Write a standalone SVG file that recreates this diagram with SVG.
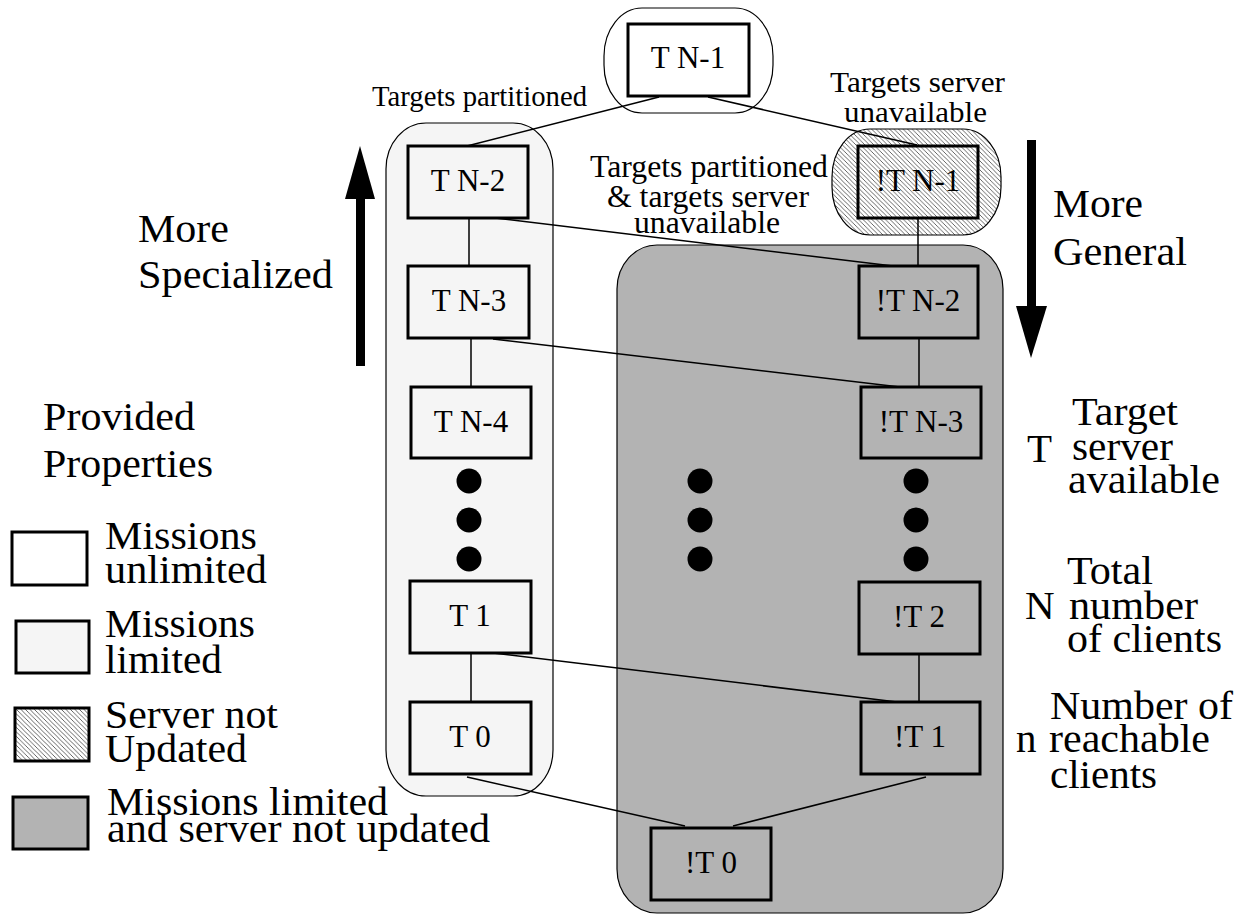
<svg xmlns="http://www.w3.org/2000/svg" width="1245" height="915" viewBox="0 0 1245 915">
<defs>
<pattern id="hatch" patternUnits="userSpaceOnUse" width="4.5" height="4.5">
<rect width="4.5" height="4.5" fill="#ffffff"/>
<path d="M-1,-1 L5.5,5.5 M3.5,-1 L5.5,1 M-1,3.5 L1,5.5" stroke="#000" stroke-width="0.6"/>
</pattern>
<style>
text{font-family:"Liberation Serif","Times New Roman",serif;fill:#000}
.nl{font-size:31px;text-anchor:middle}
.lbl{font-size:29px}
.mid{font-size:31px}
.big{font-size:41px}
.box{stroke:#000;stroke-width:3}
.wht{fill:#fff}
.lt{fill:#f5f5f5}
.gr{fill:#b3b3b3}
.ht{fill:url(#hatch)}
.cont{stroke:#000;stroke-width:1.2}
.ln{stroke:#000;stroke-width:1.5;fill:none}
.dot{fill:#000}
</style>
</defs>
<rect width="1245" height="915" fill="#fff"/>

<g id="containers">
<rect id="c-top" x="604" y="8" width="169" height="105" rx="38" ry="48" class="cont wht"/>
<rect id="c-left" x="386" y="123" width="167" height="673" rx="40" ry="46" class="cont lt"/>
<rect id="c-hatch" x="832" y="129" width="169" height="106" rx="38" ry="48" class="cont ht"/>
<rect id="c-gray" x="617" y="245" width="386" height="668" rx="40" ry="44" class="cont gr" stroke="#333"/>
</g>

<g id="arrows">
<rect x="356" y="198" width="9" height="168" fill="#000"/>
<polygon points="345,199 375,199 360,146" fill="#000"/>
<rect x="1027" y="140" width="9" height="167" fill="#000"/>
<polygon points="1016,306 1047,306 1031,358" fill="#000"/>
</g>

<g id="connectors">
<line class="ln" x1="659" y1="97" x2="467" y2="146"/>
<line class="ln" x1="708" y1="97" x2="917" y2="145"/>
<line class="ln" x1="495" y1="218" x2="893" y2="266"/>
<line class="ln" x1="493" y1="339" x2="900" y2="387"/>
<line class="ln" x1="493" y1="653" x2="897" y2="702"/>
<line class="ln" x1="467" y1="777" x2="685" y2="826"/>
<line class="ln" x1="926" y1="777" x2="733" y2="826"/>
<line class="ln" x1="469" y1="218" x2="469" y2="266"/>
<line class="ln" x1="471" y1="338" x2="471" y2="387"/>
<line class="ln" x1="471" y1="653" x2="471" y2="702"/>
<line class="ln" x1="918" y1="218" x2="918" y2="266"/>
<line class="ln" x1="919" y1="338" x2="919" y2="387"/>
<line class="ln" x1="919" y1="654" x2="919" y2="702"/>
</g>

<g id="n-TN1"><rect x="628" y="24" width="121" height="72" class="box wht"/><text class="nl" x="688" y="68">T N-1</text></g>
<g id="n-TN2"><rect x="408" y="146" width="120" height="72" class="box lt"/><text class="nl" x="468" y="191">T N-2</text></g>
<g id="n-TN3"><rect x="408" y="266" width="121" height="72" class="box lt"/><text class="nl" x="469" y="311">T N-3</text></g>
<g id="n-TN4"><rect x="411" y="387" width="120" height="71" class="box lt"/><text class="nl" x="471" y="432">T N-4</text></g>
<g id="n-T1"><rect x="410" y="581" width="121" height="72" class="box lt"/><text class="nl" x="470" y="626">T 1</text></g>
<g id="n-T0"><rect x="410" y="702" width="121" height="72" class="box lt"/><text class="nl" x="470" y="747">T 0</text></g>
<g id="n-nTN1"><rect x="858" y="146" width="120" height="72" class="box ht"/><text class="nl" x="918" y="191">!T N-1</text></g>
<g id="n-nTN2"><rect x="859" y="266" width="119" height="72" class="box gr"/><text class="nl" x="918" y="311">!T N-2</text></g>
<g id="n-nTN3"><rect x="861" y="387" width="120" height="71" class="box gr"/><text class="nl" x="921" y="432">!T N-3</text></g>
<g id="n-nT2"><rect x="859" y="582" width="121" height="72" class="box gr"/><text class="nl" x="919" y="627">!T 2</text></g>
<g id="n-nT1"><rect x="861" y="702" width="119" height="72" class="box gr"/><text class="nl" x="920" y="747">!T 1</text></g>
<g id="n-nT0"><rect x="651" y="828" width="120" height="72" class="box gr"/><text class="nl" x="711" y="873">!T 0</text></g>

<g id="dots">
<circle class="dot" cx="469" cy="481" r="12.5"/><circle class="dot" cx="469" cy="520" r="12.5"/><circle class="dot" cx="469" cy="559" r="12.5"/>
<circle class="dot" cx="700" cy="481" r="12.5"/><circle class="dot" cx="700" cy="520" r="12.5"/><circle class="dot" cx="700" cy="559" r="12.5"/>
<circle class="dot" cx="916" cy="481" r="12.5"/><circle class="dot" cx="916" cy="520" r="12.5"/><circle class="dot" cx="916" cy="559" r="12.5"/>
</g>

<g id="edge-labels">
<text class="lbl" x="372" y="106" textLength="215" lengthAdjust="spacingAndGlyphs">Targets partitioned</text>
<text class="lbl" x="830" y="92" textLength="175" lengthAdjust="spacingAndGlyphs">Targets server</text>
<text class="lbl" x="844" y="122" textLength="143" lengthAdjust="spacingAndGlyphs">unavailable</text>
<text class="mid" x="590" y="177" textLength="238" lengthAdjust="spacingAndGlyphs">Targets partitioned</text>
<text class="mid" x="607" y="207" textLength="202" lengthAdjust="spacingAndGlyphs">&amp; targets server</text>
<text class="mid" x="634" y="233" textLength="146" lengthAdjust="spacingAndGlyphs">unavailable</text>
</g>

<g id="axis-labels">
<text class="big" x="138" y="242" textLength="91" lengthAdjust="spacingAndGlyphs">More</text>
<text class="big" x="138" y="288" textLength="195" lengthAdjust="spacingAndGlyphs">Specialized</text>
<text class="big" x="1053" y="217" textLength="90" lengthAdjust="spacingAndGlyphs">More</text>
<text class="big" x="1053" y="265" textLength="134" lengthAdjust="spacingAndGlyphs">General</text>
</g>

<g id="legend">
<text class="big" x="43" y="430" textLength="152" lengthAdjust="spacingAndGlyphs">Provided</text>
<text class="big" x="43" y="477" textLength="170" lengthAdjust="spacingAndGlyphs">Properties</text>
<rect x="12" y="532" width="75" height="53" class="box wht" stroke-width="2.5"/>
<text class="big" x="105" y="549" textLength="152" lengthAdjust="spacingAndGlyphs">Missions</text>
<text class="big" x="105" y="583" textLength="162" lengthAdjust="spacingAndGlyphs">unlimited</text>
<rect x="16" y="621" width="73" height="52" class="box lt" stroke-width="2.5"/>
<text class="big" x="105" y="637" textLength="150" lengthAdjust="spacingAndGlyphs">Missions</text>
<text class="big" x="105" y="673" textLength="117" lengthAdjust="spacingAndGlyphs">limited</text>
<rect x="15" y="708" width="74" height="53" class="box ht" stroke-width="2.5"/>
<text class="big" x="105" y="728" textLength="173" lengthAdjust="spacingAndGlyphs">Server not</text>
<text class="big" x="105" y="762" textLength="142" lengthAdjust="spacingAndGlyphs">Updated</text>
<rect x="13" y="797" width="75" height="52" class="box gr" stroke-width="2.5"/>
<text class="big" x="107" y="815" textLength="281" lengthAdjust="spacingAndGlyphs">Missions limited</text>
<text class="big" x="107" y="842" textLength="383" lengthAdjust="spacingAndGlyphs">and server not updated</text>
</g>

<g id="symbols">
<text class="big" x="1027" y="462">T</text>
<text class="big" x="1072" y="425" textLength="106" lengthAdjust="spacingAndGlyphs">Target</text>
<text class="big" x="1072" y="460" textLength="101" lengthAdjust="spacingAndGlyphs">server</text>
<text class="big" x="1068" y="493" textLength="152" lengthAdjust="spacingAndGlyphs">available</text>
<text class="big" x="1025" y="619">N</text>
<text class="big" x="1067" y="584" textLength="86" lengthAdjust="spacingAndGlyphs">Total</text>
<text class="big" x="1069" y="619" textLength="129" lengthAdjust="spacingAndGlyphs">number</text>
<text class="big" x="1067" y="652" textLength="155" lengthAdjust="spacingAndGlyphs">of clients</text>
<text class="big" x="1016" y="752">n</text>
<text class="big" x="1050" y="719" textLength="183" lengthAdjust="spacingAndGlyphs">Number of</text>
<text class="big" x="1049" y="752" textLength="161" lengthAdjust="spacingAndGlyphs">reachable</text>
<text class="big" x="1050" y="788" textLength="107" lengthAdjust="spacingAndGlyphs">clients</text>
</g>
</svg>
